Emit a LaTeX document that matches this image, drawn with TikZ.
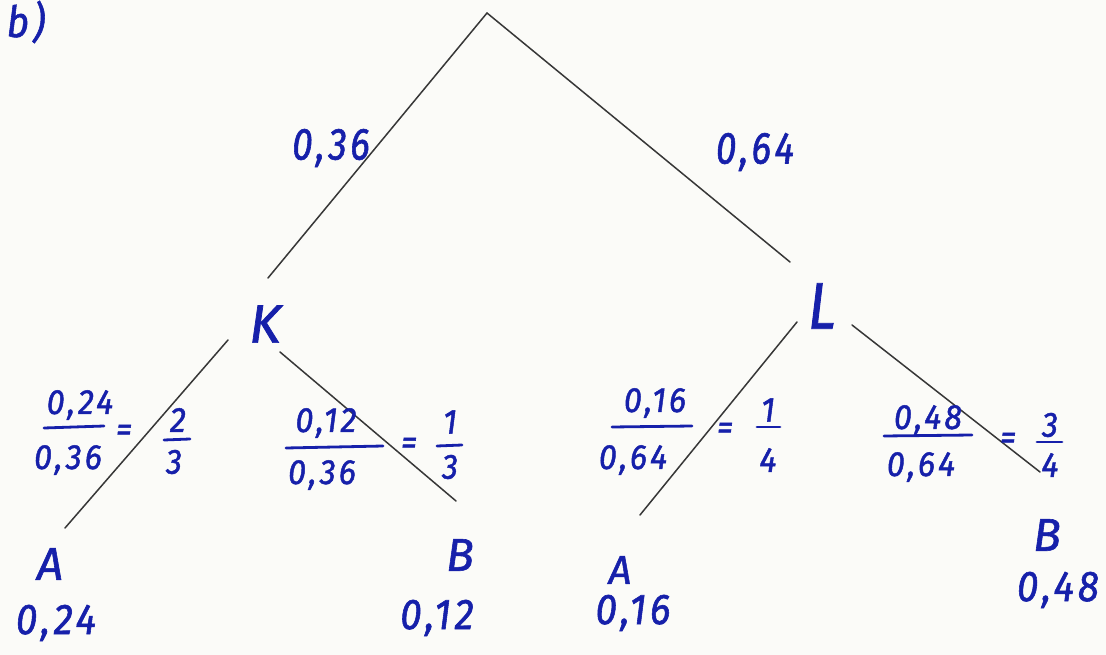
\documentclass[tikz,border=0pt]{standalone}
\usepackage{fontspec}
\setmainfont{Fira Sans}
\definecolor{ink}{RGB}{22,32,170}
\definecolor{pencil}{RGB}{55,55,55}
\definecolor{paper}{RGB}{251,251,248}
\tikzset{
  lbl/.style={text=ink, font=\fontsize{43}{46}\selectfont\itshape\addfontfeature{LetterSpace=9,FakeStretch=0.9,FakeBold=1.3}, inner sep=0pt},
  toplbl/.style={text=ink, font=\fontsize{45}{48}\selectfont\itshape\addfontfeature{LetterSpace=8,FakeStretch=0.82,FakeBold=1.3}, inner sep=0pt},
  frc/.style={text=ink, font=\fontsize{35}{38}\selectfont\itshape\addfontfeature{LetterSpace=9,FakeStretch=0.92,FakeBold=1.3}, inner sep=0pt},
  big/.style={text=ink, inner sep=0pt},
  edge/.style={draw=pencil, line width=1.5pt, line cap=round},
  fbar/.style={draw=ink, line width=2.8pt, line cap=round},
}
\begin{document}
\begin{tikzpicture}[x=1pt,y=-1pt]
\fill[paper] (0,0) rectangle (1106,655);
\useasboundingbox (0,0) rectangle (1106,655);

% title
\node[lbl] (title) at (26,22) {b)};

% tree points
\coordinate (root) at (487,13);
\coordinate (kin) at (268,278);
\coordinate (lin) at (790,262);
\coordinate (kA1) at (228,340);
\coordinate (kA2) at (65,528);
\coordinate (kB1) at (280,352);
\coordinate (kB2) at (456,501);
\coordinate (lA1) at (797,322);
\coordinate (lA2) at (640,515);
\coordinate (lB1) at (852,325);
\coordinate (lB2) at (1040,472);

\draw[edge] (root) -- (kin);
\draw[edge] (root) -- (lin);
\draw[edge] (kA1) -- (kA2);
\draw[edge] (kB1) -- (kB2);
\draw[edge] (lA1) -- (lA2);
\draw[edge] (lB1) -- (lB2);

% branch labels
\node[toplbl] (p1) at (331,148) {0,36};
\node[toplbl] (p2) at (755,152) {0,64};
\node[big, font=\fontsize{54}{56}\selectfont\itshape\addfontfeature{FakeBold=1.3}] (K) at (265,324) {K};
\node[big, font=\fontsize{66}{68}\selectfont\itshape\addfontfeature{FakeStretch=0.85,FakeBold=1.3}] (L) at (822,306) {L};

% fraction K-A
\node[frc] (n1) at (80,405) {0,24};
\draw[fbar] (44,428) -- (104,426);
\node[frc] (d1) at (68,460) {0,36};
\node[frc] (e1) at (124,433) {=};
\node[frc] (r1n) at (178,420) {2};
\draw[fbar] (164,440) -- (190,439);
\node[frc] (r1d) at (174,462) {3};

% fraction K-B
\node[frc] (n2) at (326,423) {0,12};
\draw[fbar] (286,448) -- (383,446);
\node[frc] (d2) at (322,475) {0,36};
\node[frc] (e2) at (409,446) {=};
\node[frc] (r2n) at (450,422) {1};
\draw[fbar] (437,446) -- (462,445);
\node[frc] (r2d) at (450,467) {3};

% fraction L-A
\node[frc] (n3) at (655,403) {0,16};
\draw[fbar] (612,427) -- (692,426);
\node[frc] (d3) at (633,460) {0,64};
\node[frc] (e3) at (725,431) {=};
\node[frc] (r3n) at (768,410) {1};
\draw[fbar] (757,427) -- (780,427);
\node[frc] (r3d) at (768,460) {4};

% fraction L-B
\node[frc] (n4) at (928,420) {0,48};
\draw[fbar] (884,436) -- (972,435);
\node[frc] (d4) at (921,467) {0,64};
\node[frc] (e4) at (1008,441) {=};
\node[frc] (r4n) at (1050,425) {3};
\draw[fbar] (1037,442) -- (1062,442);
\node[frc] (r4d) at (1050,465) {4};

% leaves
\node[big, font=\fontsize{46}{48}\selectfont\itshape\addfontfeature{FakeBold=1.3}] (A1) at (50,564) {A};
\node[lbl] (v1) at (56,623) {0,24};
\node[big, font=\fontsize{46}{48}\selectfont\itshape\addfontfeature{FakeBold=1.3}] (B1) at (460,555) {B};
\node[lbl] (v2) at (437,618) {0,12};
\node[big, font=\fontsize{40}{42}\selectfont\itshape\addfontfeature{FakeBold=1.3}] (A2) at (620,570) {A};
\node[lbl] (v3) at (633,613) {0,16};
\node[big, font=\fontsize{46}{48}\selectfont\itshape\addfontfeature{FakeBold=1.3}] (B2) at (1047,535) {B};
\node[lbl] (v4) at (1058,590) {0,48};
\end{tikzpicture}
\end{document}
